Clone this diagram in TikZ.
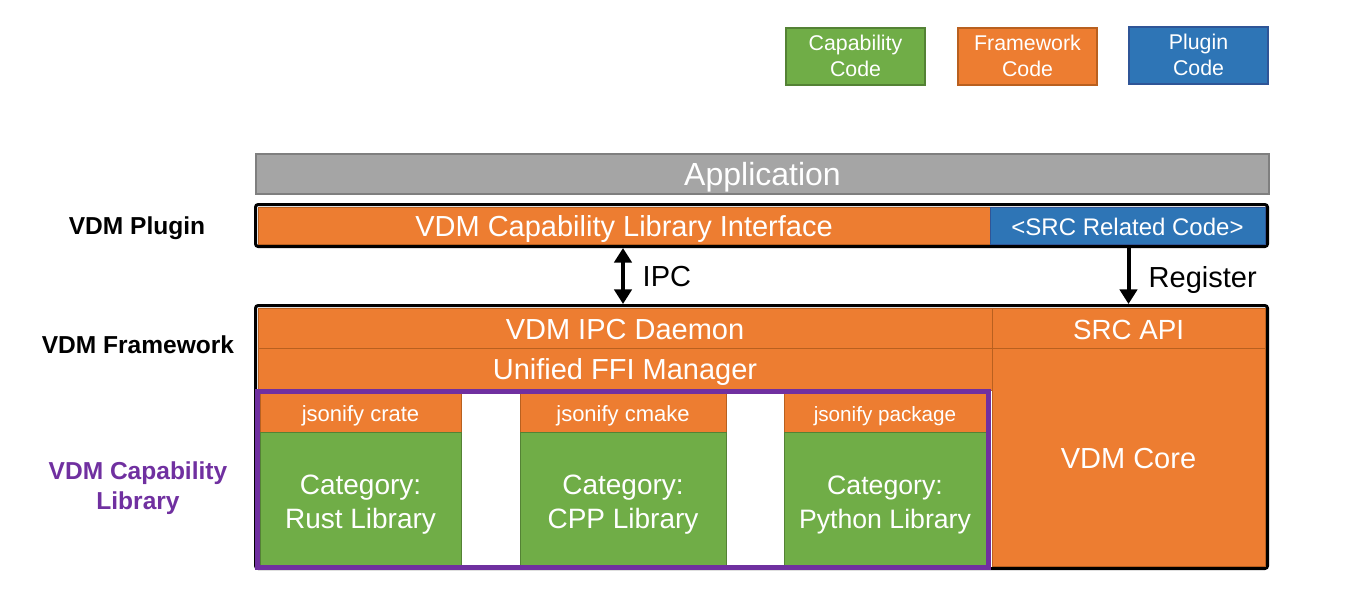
\documentclass[tikz,border=0pt]{standalone}
\usepackage{fontspec}
\setmainfont{Liberation Sans}
\usetikzlibrary{arrows.meta,fit}
\definecolor{fworange}{HTML}{ED7D31}
\definecolor{fwedge}{HTML}{B9601F}
\definecolor{capgreen}{HTML}{70AD47}
\definecolor{capedge}{HTML}{548235}
\definecolor{plugblue}{HTML}{2E75B6}
\definecolor{plugedge}{HTML}{2F5597}
\definecolor{appgray}{HTML}{A5A5A5}
\definecolor{appedge}{HTML}{7F7F7F}
\definecolor{libpurple}{HTML}{7030A0}
\tikzset{
  blk/.style={inner sep=0pt, line width=0.75pt},
  fwbox/.style={blk, draw=fwedge, fill=fworange},
  capbox/.style={blk, draw=capedge, fill=capgreen},
  plugbox/.style={blk, draw=plugedge, fill=plugblue},
  txt/.style={text=white, align=center, inner sep=0pt, yshift=-2.5pt},
  outerbox/.style={draw=black, line width=2.25pt, rounded corners=2pt, inner sep=0pt},
  conn/.style={line width=3pt},
  tip/.tip={Triangle[length=11pt,width=13pt]},
  side/.style={font=\fontsize{18.4pt}{22.5pt}\selectfont\bfseries, align=center},
  big/.style={font=\fontsize{21.75pt}{26pt}\selectfont},
  legend/.style={txt, yshift=3pt, font=\fontsize{16pt}{20pt}\selectfont},
  jsn/.style={txt, font=\fontsize{16.5pt}{20pt}\selectfont},
  catg/.style={txt, yshift=-2pt, font=\fontsize{21pt}{25.5pt}\selectfont}
}
\begin{document}
\begin{tikzpicture}[x=0.75pt,y=-0.75pt]
  \useasboundingbox (0,0) rectangle (1355,608);
  % legend
  \node[capbox, line width=1.5pt, fit={(786,28) (925,85)},
        label={[legend]center:Capability\\Code}] (lcap) {};
  \node[fwbox, line width=1.5pt, fit={(958,28) (1097,85)},
        label={[legend]center:Framework\\Code}] (lfw) {};
  \node[plugbox, line width=1.5pt, fit={(1129,27) (1268,84)},
        label={[legend]center:Plugin\\Code}] (lplug) {};
  % application
  \node[blk, draw=appedge, fill=appgray, line width=1.5pt, fit={(256,154) (1269,194)},
        label={[txt, font=\fontsize{24pt}{28pt}\selectfont]center:Application}] (app) {};
  % plugin layer
  \node[outerbox, fit={(255.5,204.5) (1267.5,246.5)}] (plugin) {};
  \node[fwbox, fit={(258,207) (990,244)},
        label={[txt, big]center:VDM Capability Library Interface}] (capif) {};
  \node[plugbox, fit={(990,207) (1265,244)},
        label={[txt, yshift=1.5pt, font=\fontsize{18pt}{22pt}\selectfont]center:<SRC Related Code>}] (srccode) {};
  % framework layer
  \node[outerbox, fit={(255.5,305.5) (1267.5,568.5)}] (fwork) {};
  \node[fwbox, fit={(258,308) (992,348)},
        label={[txt, big, yshift=1pt]center:VDM IPC Daemon}] (ipcd) {};
  \node[fwbox, fit={(992,308) (1265,348)},
        label={[txt, yshift=1pt, font=\fontsize{20.8pt}{24pt}\selectfont]center:SRC API}] (srcapi) {};
  \node[fwbox, fit={(258,348) (992,390)},
        label={[txt, big]center:Unified FFI Manager}] (ffi) {};
  \node[fwbox, fit={(992,348) (1265,566)},
        label={[txt, big, yshift=1.5pt]center:VDM Core}] (core) {};
  % capability library
  \node[fwbox, fit={(260,393) (461,432)},
        label={[jsn]center:jsonify crate}] (jcrate) {};
  \node[capbox, fit={(260,432) (461,566)},
        label={[catg]center:Category:\\Rust Library}] (rust) {};
  \node[fwbox, fit={(520,393) (726,432)},
        label={[jsn]center:jsonify cmake}] (jcmake) {};
  \node[capbox, fit={(520,432) (726,566)},
        label={[catg]center:Category:\\CPP Library}] (cpp) {};
  \node[fwbox, fit={(784,393) (986,432)},
        label={[jsn, font=\fontsize{15.5pt}{20pt}\selectfont]center:jsonify package}] (jpkg) {};
  \node[capbox, fit={(784,432) (986,566)},
        label={[catg, font=\fontsize{20pt}{25.5pt}\selectfont]center:Category:\\Python Library}] (python) {};
  \node[draw=libpurple, line width=3.75pt, inner sep=0pt,
        fit={(257.5,391.5) (988.5,567.5)}] (caplib) {};
  % connectors
  \coordinate (ipcx) at (623,0);
  \draw[conn, tip-tip] (plugin.south -| ipcx) -- (fwork.north -| ipcx);
  \node[big, anchor=west] (ipclbl) at (638,277) {IPC};
  \draw[conn, -tip] (plugin.south -| srcapi) -- (fwork.north -| srcapi);
  \node[big, anchor=west] (reglbl) at (1144,280) {Register};
  % side labels
  \node[side] (lplugin) at (137,228) {VDM Plugin};
  \node[side] (lfwork) at (138,345) {VDM Framework};
  \node[side, text=libpurple] (llib) at (138,488) {VDM Capability\\Library};
\end{tikzpicture}
\end{document}
